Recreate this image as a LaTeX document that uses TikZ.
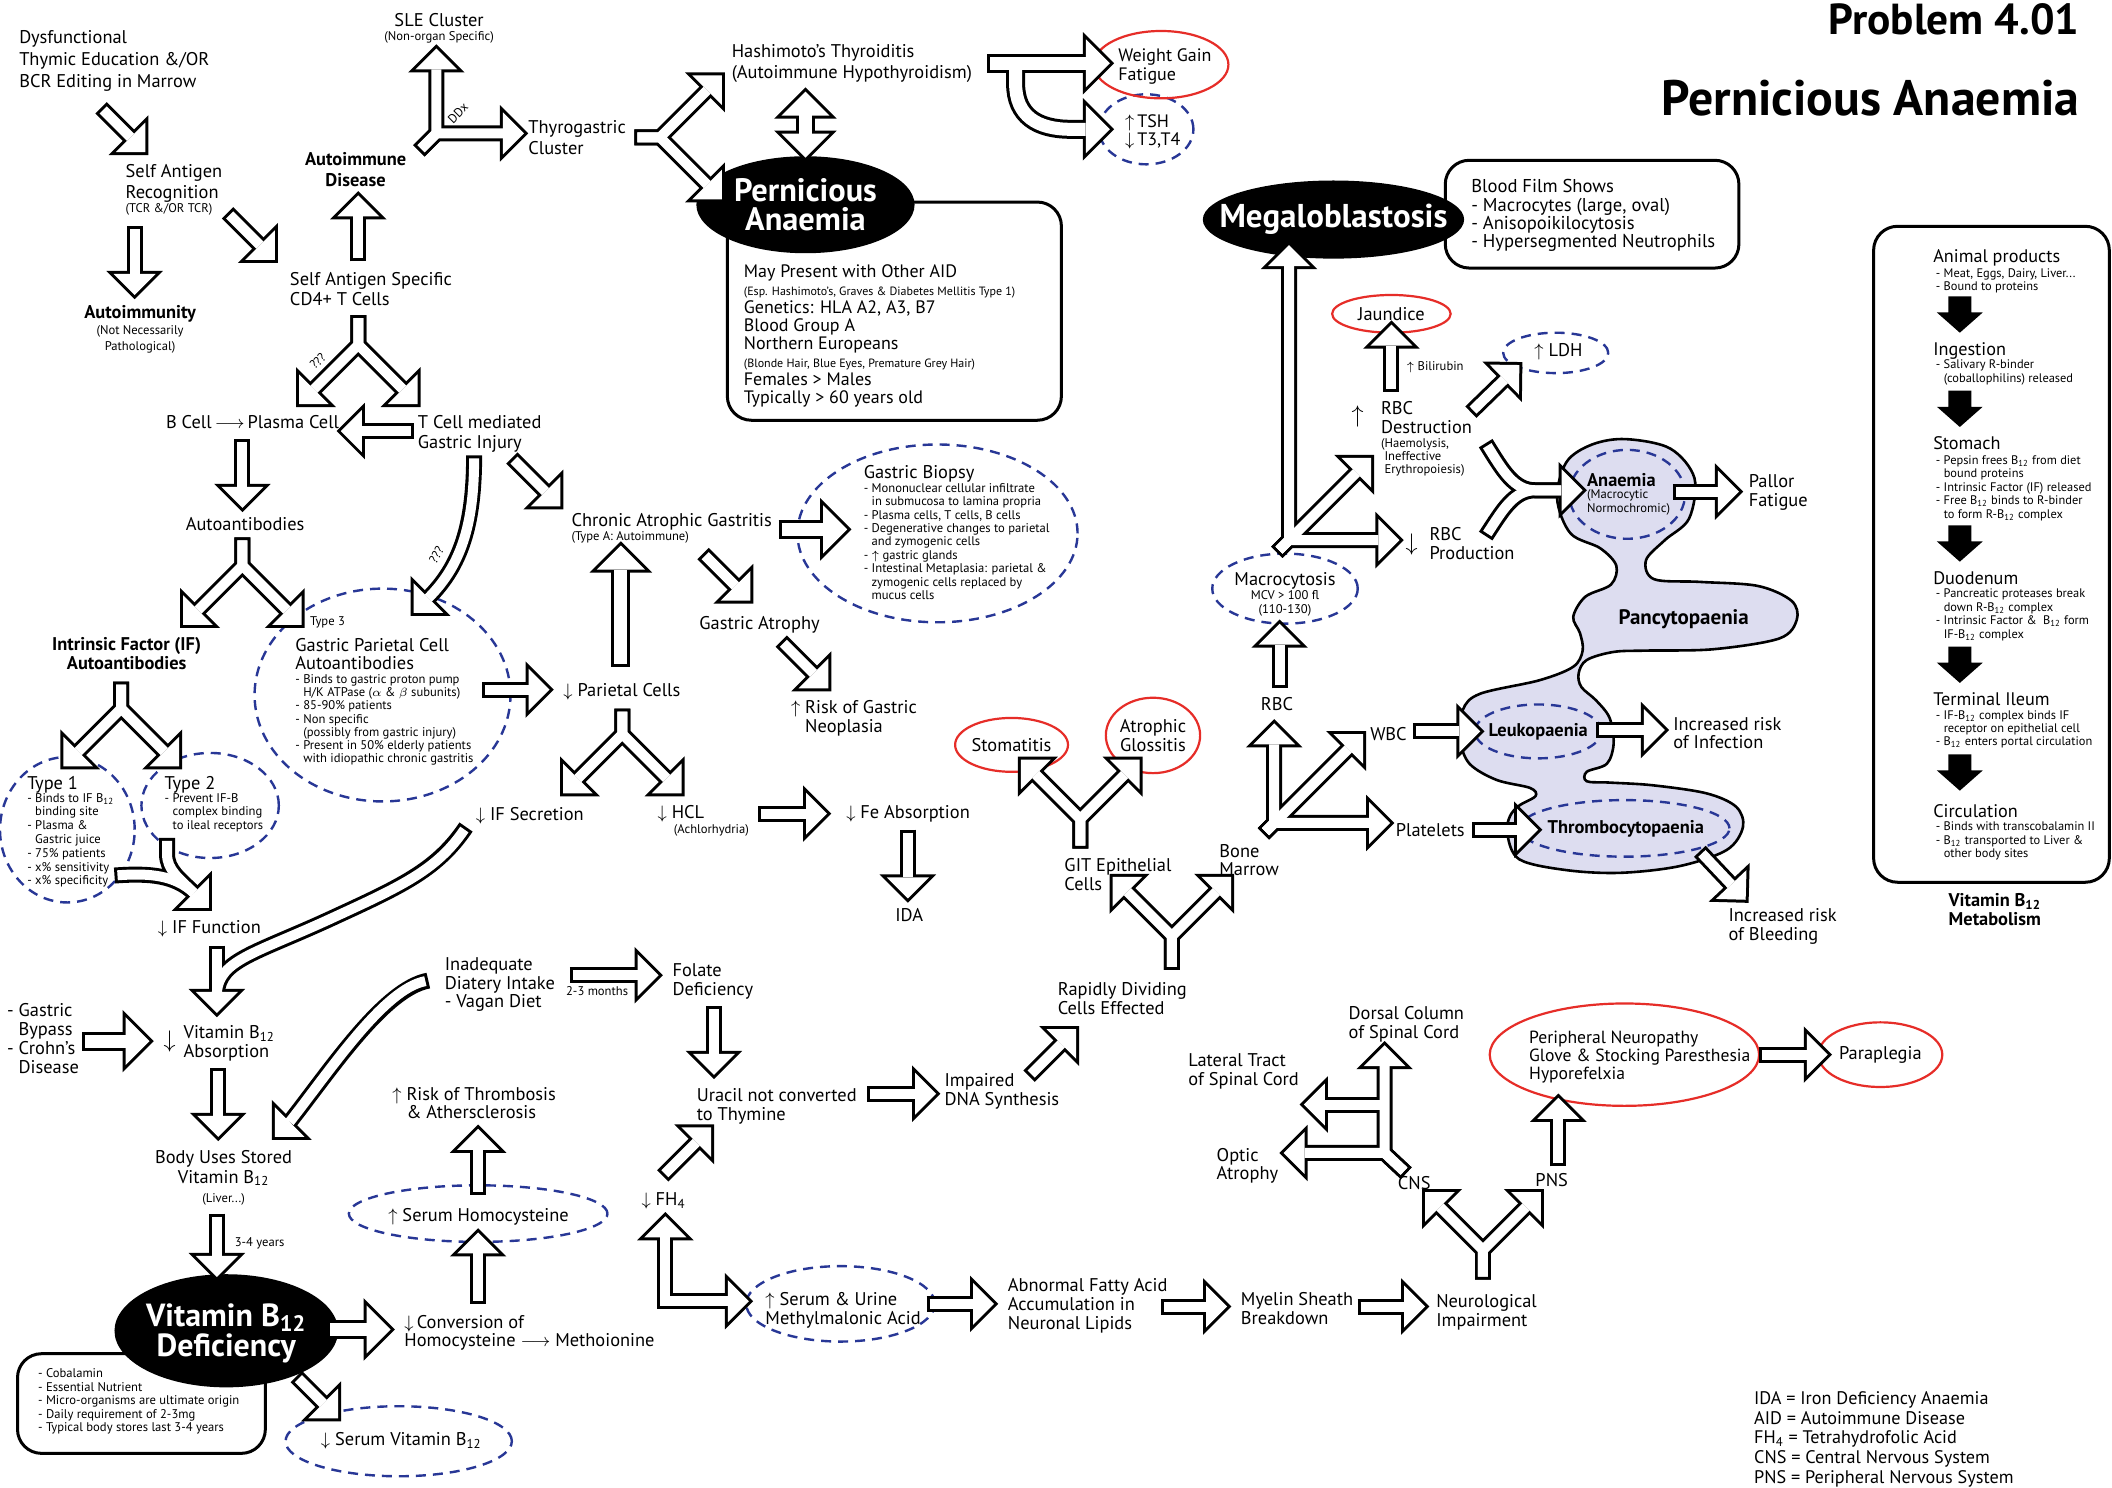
\documentclass[tikz,border=0pt]{standalone}
\usepackage{fontspec}
\setmainfont{PT Sans}
\usepackage{tikz}
\usetikzlibrary{calc,shapes.geometric}

\definecolor{dashblue}{RGB}{40,55,150}
\definecolor{ringred}{RGB}{230,45,40}
\definecolor{blobfill}{RGB}{221,221,240}

% one unit = one pixel of the layout grid
\newcommand{\px}{0.6735pt}
\newcommand{\fN}{\fontsize{9.2}{10.1}\selectfont}
\newcommand{\fS}{\fontsize{6.3}{6.7}\selectfont}
\newcommand{\Bt}{B\textsubscript{12}}
\newcommand{\upa}{$\uparrow$}
\newcommand{\dna}{$\downarrow$}

% block arrows: shaft width, head half width, head length
\newcommand{\sw}{5pt}
\newcommand{\hw}{10.5pt}
\newcommand{\hl}{10.5pt}
\newcommand{\largearrows}{\renewcommand{\sw}{6.5pt}\renewcommand{\hw}{12pt}\renewcommand{\hl}{12pt}}
\newif\ifblk
\newcommand{\sh}[1]{\ifblk\draw[shb] #1;\else\draw[shw] #1;\fi}
\newcommand{\shi}[1]{\ifblk\draw[shb] #1;\else\draw[shwi] #1;\fi}
\newcommand{\hd}[2]{\coordinate (hb) at ($#2!\hl!#1$);%
  \ifblk\filldraw[hdb] ($(hb)!\hw!90:#2$) -- #2 -- ($(hb)!\hw!-90:#2$) -- cycle;%
  \else\fill[white] ($(hb)!\hw!90:#2$) -- #2 -- ($(hb)!\hw!-90:#2$) -- cycle;\fi}
\newcommand{\grp}[1]{\blktrue #1\blkfalse #1}
\newcommand{\barr}[2]{\grp{\sh{#1 -- ($#2!\hl!#1$)}\hd{#1}{#2}}}
\newcommand{\yfork}[4]{\grp{\sh{#1 -- #2 -- ($#3!\hl!#2$)}\sh{#1 -- #2 -- ($#4!\hl!#2$)}\hd{#2}{#3}\hd{#2}{#4}}}
\newcommand{\darr}[2]{\fill[shift={(#1,#2)}] (-8.5,0) -- (8.5,0) -- (8.5,12) -- (17,12) -- (0,27) -- (-17,12) -- (-8.5,12) -- cycle;}

\tikzset{
  txt/.style={inner sep=0pt, align=left, font=\fN},
  sml/.style={inner sep=0pt, align=left, font=\fS},
  bld/.style={inner sep=0pt, align=center, font=\fN\bfseries},
  sz/.style 2 args={minimum width=#1*\px, minimum height=#2*\px},
  dashell/.style={ellipse, draw=dashblue, line width=1.2pt, dash pattern=on 5pt off 3.5pt, inner sep=0pt},
  redell/.style={ellipse, draw=ringred, line width=1.1pt, inner sep=0pt, align=center, font=\fontsize{9.2}{9.4}\selectfont},
  blkell/.style={ellipse, fill=black, inner sep=0pt},
  wtitle/.style={inner sep=0pt, align=center, text=white, font=\fontsize{16.2}{14.8}\selectfont\bfseries},
  rbox/.style={draw, line width=1.5pt, rounded corners=12pt, inner sep=0pt},
  shb/.style={draw=black, line width=\sw+3pt, line join=miter},
  shw/.style={draw=white, line width=\sw, line join=miter, shorten <=1.5pt},
  shwi/.style={draw=white, line width=\sw, line join=miter},
  hdb/.style={draw=black, fill=black, line width=3pt, line join=miter},
}

\begin{document}
\begin{tikzpicture}[x=\px, y=-\px]
\useasboundingbox (0,0) rectangle (1568,1104);
\fill[white] (0,0) rectangle (1568,1104);

% Pancytopaenia outline
\draw[fill=blobfill, line width=1.3pt] plot[smooth cycle, tension=0.55] coordinates {
  (1207,326) (1240,333) (1258,355) (1254,385) (1236,401) (1222,416) (1228,430)
  (1262,432) (1305,435) (1330,446) (1334,460) (1321,474) (1272,482) (1223,483)
  (1198,484) (1178,490) (1172,500) (1174,510) (1185,520) (1195,533) (1198,552)
  (1193,567) (1178,573) (1178,580) (1195,581) (1227,583) (1267,589) (1289,599)
  (1294,614) (1282,631) (1247,643) (1203,648) (1163,646) (1128,638) (1119,619)
  (1121,606) (1128,598) (1140,591) (1136,585) (1111,579) (1091,567) (1084,549)
  (1086,527) (1099,515) (1143,505) (1168,495) (1175,483) (1173,470) (1168,458)
  (1177,443) (1196,434) (1200,420) (1188,407) (1166,396) (1156,370) (1163,343)
  (1182,330)};

% Boxes
\node[rbox, sz={248}{162}] (paB) at (664,231) {};
\node[rbox, sz={218}{80}] (bfB) at (1182,159) {};
\node[rbox, sz={184}{74}] (vdB) at (105,1042) {};
\node[rbox, sz={175}{487}] (vbB) at (1478.5,411.5) {};

% Black ellipses
\node[blkell, sz={162}{72}] (paE) at (598,152) {};
\node[blkell, sz={194}{58}] (meE) at (990,163) {};
\node[blkell, sz={166}{84}] (vdE) at (168,988) {};

% Dashed rings
\node[dashell, sz={70}{52}] (tshE) at (851,96) {};
\node[dashell, sz={190}{158}] (gpE) at (284,516) {};
\node[dashell, sz={208}{132}] (gbE) at (696,396) {};
\node[dashell, sz={100}{108}] (t1E) at (50,616) {};
\node[dashell, sz={102}{78}] (t2E) at (156,598) {};
\node[dashell, sz={192}{42}] (shE) at (355,901) {};
\node[dashell, sz={168}{52}] (svE) at (296,1070) {};
\node[dashell, sz={140}{56}] (suE) at (624,968) {};
\node[dashell, sz={78}{30}] (ldE) at (1155,262) {};
\node[dashell, sz={108}{52}] (macE) at (954,437) {};
\node[dashell, sz={86}{66}] (anE) at (1208,367) {};
\node[dashell, sz={94}{40}] (leE) at (1142,543) {};
\node[dashell, sz={156}{42}] (thE) at (1206,615) {};

% Red rings
\node[redell, sz={100}{50}] (wgE) at (862,48) {};
\node[redell, sz={88}{28}] (jaE) at (1033,233) {Jaundice};
\node[redell, sz={76}{40}] (stoE) at (751,553) {Stomatitis};
\node[redell, sz={70}{56}] (agE) at (856,546) {Atrophic\\Glossitis};
\node[redell, sz={200}{76}] (pnE) at (1206,783) {};
\node[redell, sz={92}{48}] (ppE) at (1396,783) {Paraplegia};

% Block arrows, upper left
\barr{(75,80)}{(108,113)}
\barr{(100,168)}{(100,219)}
\barr{(169,158)}{(204,193)}
\barr{(266,194)}{(266,145)}
\yfork{(311,112)}{(324,99)}{(324,36)}{(389,99)}
\yfork{(471,102)}{(490,102)}{(536,56)}{(536,148)}
\begin{scope}\largearrows
  \grp{\shi{(598,84) -- (598,101)}\hd{(598,101)}{(598,68)}\hd{(598,84)}{(598,117)}}
  \grp{\sh{(733,47) -- (806,47)}
       \shi{(754,47) -- (754,62) .. controls (754,86) and (770,96) .. (795,96) -- (806,96)}
       \hd{(733,47)}{(824,47)}\hd{(790,96)}{(824,96)}}
\end{scope}
\yfork{(266,234)}{(266,256)}{(222,300)}{(310,300)}
\barr{(307,320)}{(253,320)}
\barr{(180,326)}{(180,377)}
\yfork{(180,399)}{(180,420)}{(136,464)}{(224,464)}
\grp{\sh{(352,338) .. controls (352,390) and (342,420) .. (318,444)}\hd{(342,420)}{(307,455)}}
\barr{(358,512)}{(408,512)}
\barr{(380,340)}{(416,376)}
\begin{scope}\largearrows
  \barr{(461,495)}{(461,405)}
  \barr{(578,393)}{(629,393)}
\end{scope}
\barr{(522,411)}{(557,446)}
\barr{(580,476)}{(615,511)}
\yfork{(462,526)}{(462,545)}{(418,589)}{(506,589)}
\barr{(563,604)}{(614,604)}
\barr{(674,616)}{(674,667)}
\yfork{(90,506)}{(90,526)}{(47,569)}{(133,569)}
\grp{\sh{(85,650) .. controls (112,648) and (130,650) .. (144,663)}
     \sh{(124,622) -- (124,634) .. controls (124,646) and (133,652) .. (144,663)}
     \hd{(120,639)}{(155,674)}}
\grp{\sh{(161,702) -- (161,737)}
     \sh{(346,614) .. controls (325,645) and (300,657) .. (250,680) .. controls (190,708) and (163,712) .. (161,737)}
     \hd{(161,700)}{(161,752)}}
\begin{scope}\largearrows
  \barr{(61,773)}{(111,773)}
\end{scope}
\barr{(162,793)}{(162,844)}
\grp{\sh{(318,728) .. controls (285,734) and (245,795) .. ($(204,844)!\hl!(245,803)$)}\hd{(245,803)}{(204,844)}}

% Block arrows, lower middle
\barr{(423,724)}{(489,724)}
\barr{(530,747)}{(530,798)}
\barr{(644,812)}{(695,812)}
\barr{(764,799)}{(799,764)}
\barr{(355,887)}{(355,838)}
\barr{(355,968)}{(355,915)}
\barr{(161,901)}{(161,948)}
\begin{scope}\largearrows
  \barr{(243,987)}{(290,987)}
\end{scope}
\barr{(220,1022)}{(251,1053)}
\grp{\shi{(494,915) -- (494,966) -- (545,966)}\hd{(494,966)}{(494,903)}\hd{(494,966)}{(556,966)}}
\barr{(492,873)}{(528,837)}
\barr{(688,968)}{(738,968)}
\barr{(862,970)}{(911,970)}
\barr{(1008,970)}{(1058,970)}
\yfork{(1101,950)}{(1101,928)}{(1058,885)}{(1144,885)}
\barr{(1157,866)}{(1157,815)}
\barr{(1306,783)}{(1357,783)}
\yfork{(802,630)}{(802,608)}{(758,564)}{(846,564)}
\yfork{(870,720)}{(870,695)}{(826,651)}{(914,651)}
\grp{\sh{(1044,871) -- (1028,856) -- ($(1028,776)!\hl!(1028,856)$)}
     \sh{(1044,871) -- (1028,856) -- ($(953,856)!\hl!(1028,856)$)}
     \shi{(1028,820) -- ($(968,820)!\hl!(1028,820)$)}
     \hd{(1028,856)}{(1028,776)}\hd{(1028,856)}{(953,856)}\hd{(1028,820)}{(968,820)}}

% Block arrows, right
\grp{\sh{(948,410) -- (957,401) -- ($(957,182)!\hl!(957,401)$)}
     \sh{(948,410) -- (957,401) -- ($(1039,401)!\hl!(957,401)$)}
     \sh{(948,410) -- ($(1018,340)!\hl!(948,410)$)}
     \hd{(957,401)}{(957,182)}\hd{(957,401)}{(1039,401)}\hd{(948,410)}{(1018,340)}}
\barr{(1033,291)}{(1033,241)}
\barr{(1092,306)}{(1128,271)}
\grp{\sh{(1103,329) .. controls (1116,350) and (1124,364) .. (1140,364) -- (1159,364)}
     \sh{(1103,398) .. controls (1116,378) and (1124,364) .. (1140,364) -- (1159,364)}
     \hd{(1140,364)}{(1175,364)}}
\barr{(1242,365)}{(1291,365)}
\barr{(950,511)}{(950,463)}
\grp{\sh{(938,619) -- (946,611) -- ($(946,537)!\hl!(946,611)$)}
     \sh{(938,619) -- (946,611) -- ($(1032,611)!\hl!(946,611)$)}
     \sh{(938,619) -- ($(1012,545)!\hl!(938,619)$)}
     \hd{(946,611)}{(946,537)}\hd{(946,611)}{(1032,611)}\hd{(938,619)}{(1012,545)}}
\barr{(1049,543)}{(1099,543)}
\barr{(1093,616)}{(1142,616)}
\barr{(1185,542)}{(1236,542)}
\barr{(1262,632)}{(1296,668)}

% Metabolism steps
\darr{1455}{220}
\darr{1455}{290}
\darr{1455}{390}
\darr{1455}{480}
\darr{1455}{560}

% Titles
\node[anchor=east, inner sep=0pt, font=\fontsize{21.7}{21.7}\selectfont\bfseries] (ttlA) at (1544,14) {Problem 4.01};
\node[anchor=east, inner sep=0pt, font=\fontsize{24.9}{24.9}\selectfont\bfseries] (ttlB) at (1544,73) {Pernicious Anaemia};

% Labels, upper left
\node[txt, anchor=north west, font=\fontsize{9.2}{11.1}\selectfont] (dys) at (14,22) {Dysfunctional\\Thymic Education \&/OR\\BCR Editing in Marrow};
\node[txt, anchor=north west] (sar) at (93,122) {Self Antigen\\Recognition\\[-3pt]{\fS (TCR \&/OR TCR)}};
\node[bld] (aimty) at (104,233) {Autoimmunity};
\node[sml, align=center, font=\fontsize{6.3}{8.1}\selectfont] (aimsub) at (104,252) {(Not Necessarily\\Pathological)};
\node[txt, anchor=north west] (sasc) at (215,202) {Self Antigen Specific\\CD4+ T Cells};
\node[bld, font=\fontsize{9.2}{10.8}\selectfont\bfseries] (aid) at (264,126) {Autoimmune\\Disease};
\node[txt] (sle) at (326,15) {SLE Cluster};
\node[sml] (slesub) at (326,28) {(Non-organ Specific)};
\node[sml, rotate=45] (ddx) at (340,84) {DDx};
\node[txt, anchor=north west, font=\fontsize{9.2}{10.8}\selectfont] (thy) at (392,89) {Thyrogastric\\Cluster};
\node[txt, anchor=north west] (hash) at (543,33) {Hashimoto's Thyroiditis\\(Autoimmune Hypothyroidism)};
\node[wtitle] (paT) at (598,152) {Pernicious\\Anaemia};
\node[txt, anchor=north west, font=\fontsize{9}{9}\selectfont] (paL) at (552,196) {May Present with Other AID\\
  {\fontsize{6}{9}\selectfont (Esp. Hashimoto's, Graves \& Diabetes Mellitis Type 1)}\\
  Genetics: HLA A2, A3, B7\\Blood Group A\\Northern Europeans\\
  {\fontsize{6}{9}\selectfont (Blonde Hair, Blue Eyes, Premature Grey Hair)}\\
  Females > Males\\Typically > 60 years old};
\node[txt, anchor=north west, font=\fontsize{9}{9.4}\selectfont] (wg) at (830,36) {Weight Gain\\Fatigue};
\node[txt, anchor=north west, font=\fontsize{9}{8.8}\selectfont] (tsh) at (835,85) {\upa\,TSH\\\dna\,T3,T4};

% Labels, left middle
\node[sml, rotate=45] (qa) at (236,268) {???};
\node[txt, anchor=north west] (bcl) at (123,308) {B Cell\,$\longrightarrow$\,Plasma Cell};
\node[txt, anchor=north west] (tcm) at (310,308) {T Cell mediated\\Gastric Injury};
\node[txt] (aab) at (182,389) {Autoantibodies};
\node[bld, font=\fontsize{9.2}{9.4}\selectfont\bfseries] (ifab) at (94,485) {Intrinsic Factor (IF)\\Autoantibodies};
\node[sml, anchor=west] (ty3) at (230,462) {Type 3};
\node[txt, anchor=north west, font=\fontsize{9.2}{9}\selectfont] (gpT) at (219,474) {Gastric Parietal Cell\\Autoantibodies};
\node[sml, anchor=north west, font=\fontsize{6.3}{6.6}\selectfont] (gpL) at (219,500.5) {- Binds to gastric proton pump\\
  \hphantom{- }H/K ATPase ($\alpha$ \& $\beta$ subunits)\\- 85-90\% patients\\- Non specific\\
  \hphantom{- }(possibly from gastric injury)\\- Present in 50\% elderly patients\\
  \hphantom{- }with idiopathic chronic gastritis};
\node[sml, rotate=60] (qb) at (324,412) {???};
\node[txt, anchor=north west] (parc) at (418,507) {\dna\ Parietal Cells};
\node[txt, anchor=north west] (cag) at (424,381) {Chronic Atrophic Gastritis};
\node[sml, anchor=north west] (cags) at (424,394) {(Type A: Autoimmune)};
\node[txt, anchor=north west] (gat) at (519,457) {Gastric Atrophy};
\node[txt, anchor=north west, font=\fontsize{9.2}{9.4}\selectfont] (rgn) at (587,520) {\upa\ Risk of Gastric\\\hphantom{\upa\ }Neoplasia};
\node[txt, anchor=north west] (gbT) at (641,345) {Gastric Biopsy};
\node[sml, anchor=north west] (gbL) at (641,358.5) {- Mononuclear cellular infiltrate\\
  \hphantom{- }in submucosa to lamina propria\\- Plasma cells, T cells, B cells\\
  - Degenerative changes to parietal\\\hphantom{- }and zymogenic cells\\- \upa\ gastric glands\\
  - Intestinal Metaplasia: parietal \&\\\hphantom{- }zymogenic cells replaced by\\\hphantom{- }mucus cells};
\node[txt, anchor=north west] (ifs) at (353,599) {\dna\ IF Secretion};
\node[txt, anchor=north west] (hcl) at (488,598) {\dna\ HCL};
\node[sml, anchor=north west] (achl) at (500,611.5) {(Achlorhydria)};
\node[txt, anchor=north west] (fea) at (628,598) {\dna\ Fe Absorption};
\node[txt] (ida) at (675,679) {IDA};
\node[txt, anchor=north west] (t1T) at (20,576) {Type 1};
\node[sml, anchor=north west, font=\fontsize{6.3}{6.9}\selectfont] (t1L) at (20,588.5) {- Binds to IF \Bt\\\hphantom{- }binding site\\
  - Plasma \&\\\hphantom{- }Gastric juice\\- 75\% patients\\- x\% sensitivity\\- x\% specificity};
\node[txt, anchor=north west] (t2T) at (122,576) {Type 2};
\node[sml, anchor=north west, font=\fontsize{6.3}{6.9}\selectfont] (t2L) at (122,588.5) {- Prevent IF-B\\\hphantom{- }complex binding\\\hphantom{- }to ileal receptors};
\node[txt, anchor=north west] (iff) at (117,683) {\dna\ IF Function};
\node[txt, font=\fontsize{12}{12}\selectfont] (vbaA) at (126,773) {\dna};
\node[txt, anchor=north west, font=\fontsize{9.2}{9.4}\selectfont] (vba) at (136,761) {Vitamin \Bt\\Absorption};
\node[txt, anchor=north west, font=\fontsize{9.2}{9.4}\selectfont] (gby) at (5,745) {- Gastric\\\hphantom{- }Bypass\\- Crohn's\\\hphantom{- }Disease};
\node[txt, anchor=north, align=center, font=\fontsize{9.2}{9.6}\selectfont] (bus) at (166,854) {Body Uses Stored\\Vitamin \Bt\\{\fS (Liver...)}};
\node[sml, anchor=north west] (yrs) at (174,918.5) {3-4 years};

% Labels, lower middle
\node[txt, anchor=north west, font=\fontsize{9.2}{9.2}\selectfont] (idi) at (330,711) {Inadequate\\Diatery Intake\\- Vagan Diet};
\node[sml, anchor=north west] (mon) at (420,732) {2-3 months};
\node[txt, anchor=north west, font=\fontsize{9.2}{9.4}\selectfont] (fol) at (499,715) {Folate\\Deficiency};
\node[txt, anchor=north west, font=\fontsize{9.2}{9.4}\selectfont] (ura) at (517,808) {Uracil not converted\\to Thymine};
\node[txt, anchor=north west, font=\fontsize{9.2}{9.4}\selectfont] (idna) at (701,797) {Impaired\\DNA Synthesis};
\node[txt, anchor=north west, font=\fontsize{9.2}{9.4}\selectfont] (rdc) at (785,729) {Rapidly Dividing\\Cells Effected};
\node[txt, anchor=north west, font=\fontsize{9.2}{9.4}\selectfont] (git) at (790,637) {GIT Epithelial\\Cells};
\node[txt, anchor=north west, font=\fontsize{9.2}{8.8}\selectfont] (bm) at (905,627) {Bone\\Marrow};
\node[txt, anchor=north west, font=\fontsize{9.2}{9}\selectfont] (rth) at (291,807) {\upa\ Risk of Thrombosis\\\hphantom{\upa\ }\& Athersclerosis};
\node[txt, anchor=north west] (shT) at (288,897) {\upa\ Serum Homocysteine};
\node[wtitle, font=\fontsize{16}{12.8}\selectfont\bfseries] (vdT) at (168,990) {Vitamin \Bt\\Deficiency};
\node[sml, anchor=north west] (vdL) at (28,1016) {- Cobalamin\\- Essential Nutrient\\- Micro-organisms are ultimate origin\\
  - Daily requirement of 2-3mg\\- Typical body stores last 3-4 years};
\node[txt, anchor=north west, font=\fontsize{9.2}{9}\selectfont] (conv) at (300,976) {\dna\,Conversion of\\Homocysteine $\longrightarrow$ Methoionine};
\node[txt, anchor=north west] (svT) at (238,1063) {\dna\ Serum Vitamin \Bt};
\node[txt, anchor=north west] (fh) at (476,885) {\dna\ FH\textsubscript{4}};
\node[txt, anchor=north west, font=\fontsize{9.2}{9.4}\selectfont] (suT) at (568,959) {\upa\ Serum \& Urine\\Methylmalonic Acid};
\node[txt, anchor=north west, font=\fontsize{9.2}{9.4}\selectfont] (afa) at (748,949) {Abnormal Fatty Acid\\Accumulation in\\Neuronal Lipids};
\node[txt, anchor=north west, font=\fontsize{9.2}{9.4}\selectfont] (msb) at (921,959) {Myelin Sheath\\Breakdown};
\node[txt, anchor=north west, font=\fontsize{9.2}{9.4}\selectfont] (neu) at (1066,961) {Neurological\\Impairment};
\node[txt] (cns) at (1050,878) {CNS};
\node[txt] (pns) at (1152,876) {PNS};
\node[txt, anchor=north west, font=\fontsize{8.8}{9}\selectfont] (pnT) at (1135,765) {Peripheral Neuropathy\\Glove \& Stocking Paresthesia\\Hyporefelxia};
\node[txt, anchor=north west, font=\fontsize{9.2}{9.4}\selectfont] (dc) at (1001,747) {Dorsal Column\\of Spinal Cord};
\node[txt, anchor=north west, font=\fontsize{9.2}{9.4}\selectfont] (lt) at (882,782) {Lateral Tract\\of Spinal Cord};
\node[txt, anchor=north west, font=\fontsize{9.2}{9.4}\selectfont] (oa) at (903,852) {Optic\\Atrophy};

% Labels, right
\node[wtitle, font=\fontsize{16.5}{16.5}\selectfont\bfseries] (meT) at (990,163) {Megaloblastosis};
\node[txt, anchor=north west, font=\fontsize{9.3}{9.2}\selectfont] (bf) at (1092,133) {Blood Film Shows\\- Macrocytes (large, oval)\\- Anisopoikilocytosis\\- Hypersegmented Neutrophils};
\node[txt, font=\fontsize{12}{12}\selectfont] (rbcdA) at (1008,309) {\upa};
\node[txt, anchor=north west, font=\fontsize{9.2}{9.4}\selectfont] (rbcd) at (1025,298) {RBC\\Destruction};
\node[sml, anchor=north west, font=\fontsize{6.3}{6.4}\selectfont] (rbcds) at (1025,325.5) {(Haemolysis,\\\hphantom{(}Ineffective\\\hphantom{(}Erythropoiesis)};
\node[sml, anchor=north west] (bil) at (1044,268.5) {\upa\ Bilirubin};
\node[txt] (ldT) at (1157,261) {\upa\ LDH};
\node[txt, font=\fontsize{12}{12}\selectfont] (rbcpA) at (1048,404) {\dna};
\node[txt, anchor=north west, font=\fontsize{9.2}{9.8}\selectfont] (rbcp) at (1061,391) {RBC\\Production};
\node[bld, anchor=north west] (ana) at (1178,351) {Anaemia};
\node[sml, anchor=north west] (anas) at (1178,363.5) {(Macrocytic\\Normochromic)};
\node[txt, anchor=north west, font=\fontsize{9.2}{9.4}\selectfont] (pal) at (1298,352) {Pallor\\Fatigue};
\node[bld, font=\fontsize{10.5}{10.5}\selectfont\bfseries] (pan) at (1250,460) {Pancytopaenia};
\node[txt] (mac) at (954,431) {Macrocytosis};
\node[sml, align=center] (macs) at (954,448) {MCV > 100 fl\\(110-130)};
\node[txt] (rbc) at (948,523) {RBC};
\node[txt, anchor=north west] (wbc) at (1017,540) {WBC};
\node[txt, anchor=north west] (plt) at (1036,611) {Platelets};
\node[bld] (leu) at (1142,543) {Leukopaenia};
\node[bld] (thr) at (1207,615) {Thrombocytopaenia};
\node[txt, anchor=north west, font=\fontsize{9.2}{9.4}\selectfont] (inf) at (1242,532) {Increased risk\\of Infection};
\node[txt, anchor=north west, font=\fontsize{9.2}{9.4}\selectfont] (ble) at (1283,674) {Increased risk\\of Bleeding};

% Vitamin B12 metabolism panel
\node[txt, anchor=north west, font=\fontsize{9.1}{9}\selectfont] (apT) at (1435,185) {Animal products};
\node[sml, anchor=north west, font=\fontsize{6.2}{6.7}\selectfont] (apL) at (1437,199) {- Meat, Eggs, Dairy, Liver...\\- Bound to proteins};
\node[txt, anchor=north west, font=\fontsize{9.1}{9}\selectfont] (ingT) at (1435,254) {Ingestion};
\node[sml, anchor=north west, font=\fontsize{6.2}{6.7}\selectfont] (ingL) at (1437,267) {- Salivary R-binder\\\hphantom{- }(coballophilins) released};
\node[txt, anchor=north west, font=\fontsize{9.1}{9}\selectfont] (stoT) at (1435,324) {Stomach};
\node[sml, anchor=north west, font=\fontsize{6.2}{6.7}\selectfont] (stoL) at (1437,338) {- Pepsin frees \Bt{} from diet\\\hphantom{- }bound proteins\\
  - Intrinsic Factor (IF) released\\- Free \Bt{} binds to R-binder\\\hphantom{- }to form R-\Bt{} complex};
\node[txt, anchor=north west, font=\fontsize{9.1}{9}\selectfont] (duoT) at (1435,424) {Duodenum};
\node[sml, anchor=north west, font=\fontsize{6.2}{6.7}\selectfont] (duoL) at (1437,437) {- Pancreatic proteases break\\\hphantom{- }down R-\Bt{} complex\\
  - Intrinsic Factor \&\ \ \Bt{} form\\\hphantom{- }IF-\Bt{} complex};
\node[txt, anchor=north west, font=\fontsize{9.1}{9}\selectfont] (tilT) at (1435,514) {Terminal Ileum};
\node[sml, anchor=north west, font=\fontsize{6.2}{6.7}\selectfont] (tilL) at (1437,527) {- IF-\Bt{} complex binds IF\\\hphantom{- }receptor on epithelial cell\\
  - \Bt{} enters portal circulation};
\node[txt, anchor=north west, font=\fontsize{9.1}{9}\selectfont] (cirT) at (1435,597) {Circulation};
\node[sml, anchor=north west, font=\fontsize{6.2}{6.7}\selectfont] (cirL) at (1437,610) {- Binds with transcobalamin II\\- \Bt{} transported to Liver \&\\
  \hphantom{- }other body sites};
\node[bld, font=\fontsize{9.2}{9.4}\selectfont\bfseries] (vbm) at (1481,675) {Vitamin \Bt\\Metabolism};

% Legend
\node[txt, anchor=north west, font=\fontsize{9.1}{9.8}\selectfont] (leg) at (1302,1033) {IDA = Iron Deficiency Anaemia\\AID = Autoimmune Disease\\
  FH\textsubscript{4} = Tetrahydrofolic Acid\\CNS = Central Nervous System\\PNS = Peripheral Nervous System};
\end{tikzpicture}
\end{document}
